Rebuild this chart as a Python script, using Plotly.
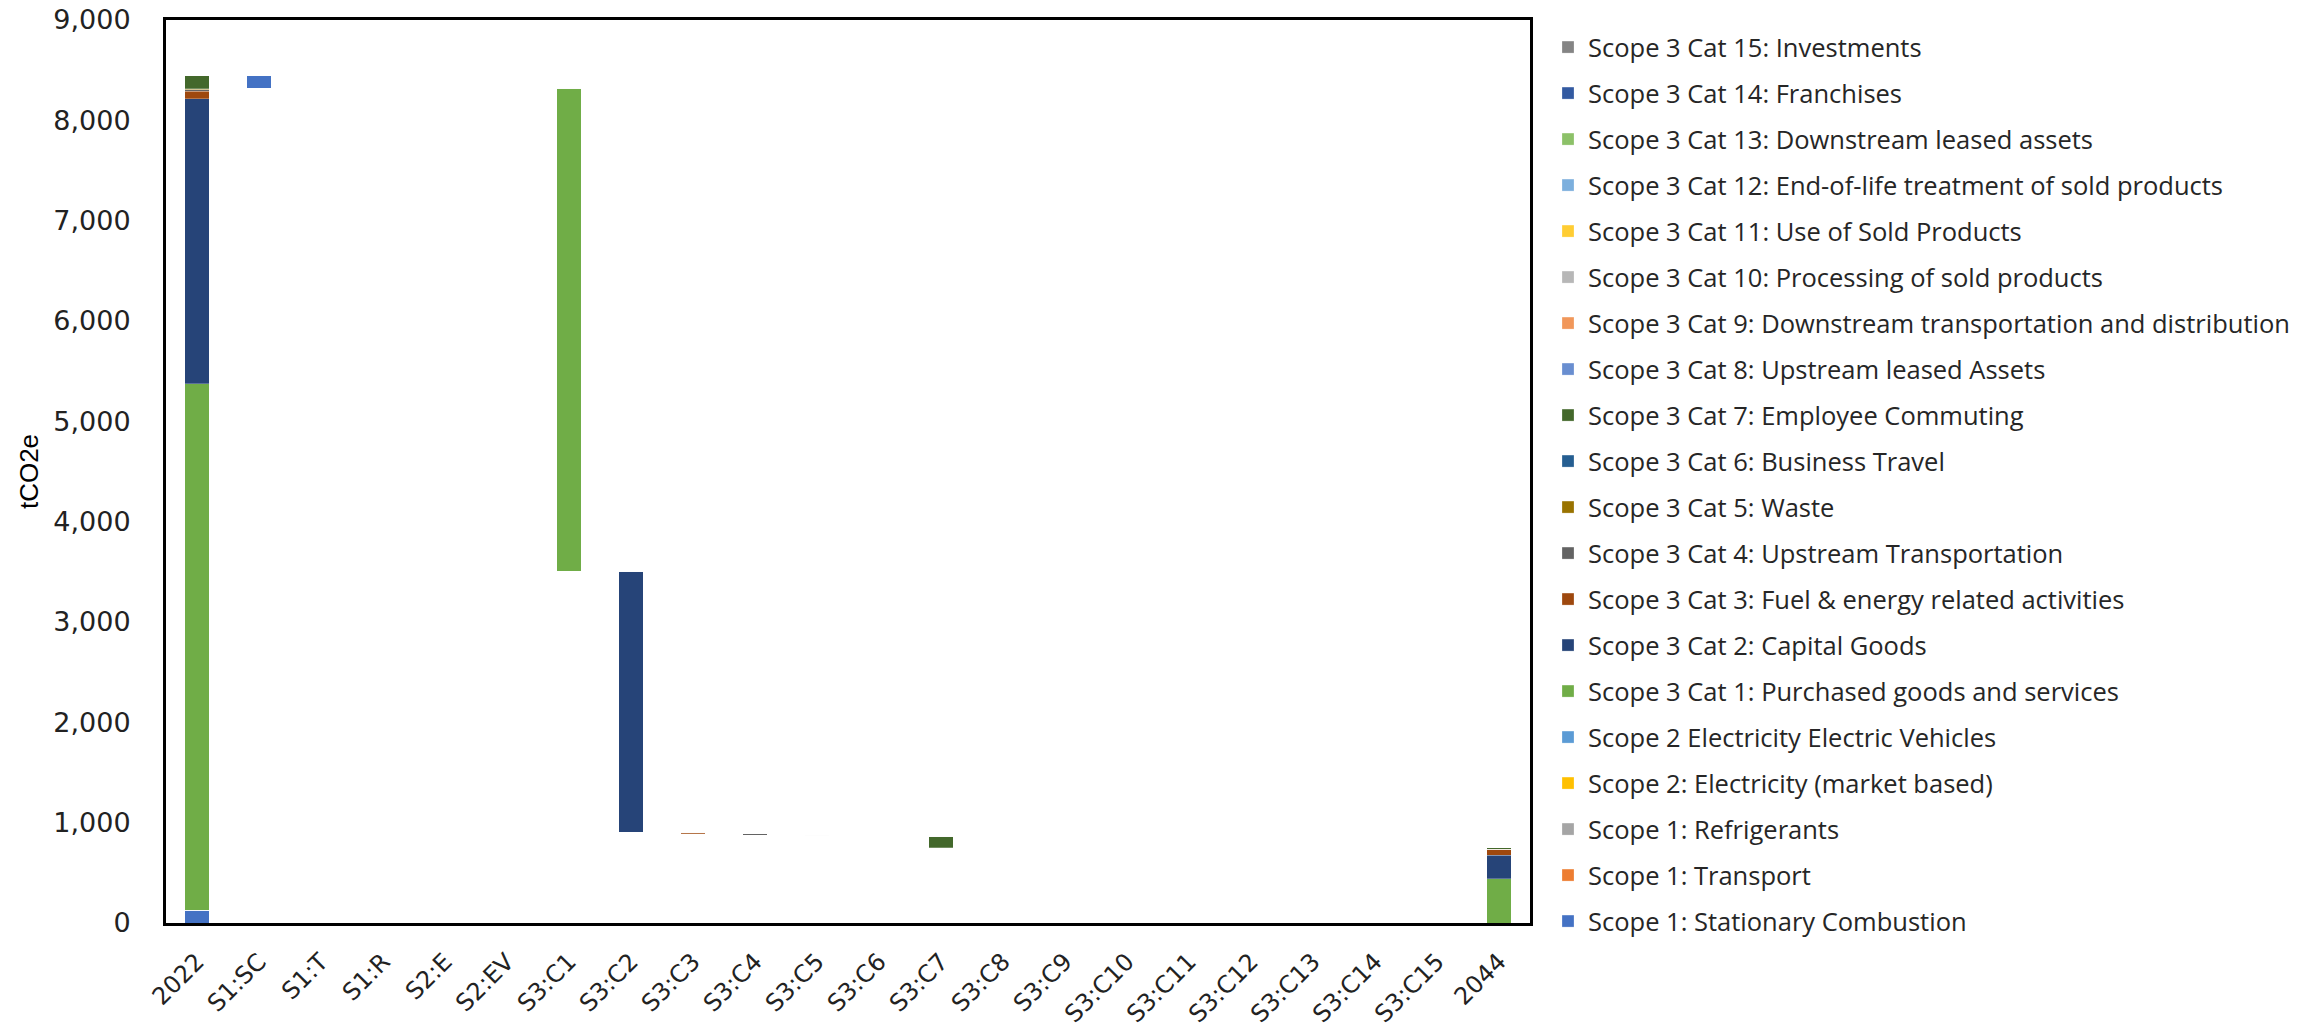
import plotly.graph_objects as go

categories = ["2022", "S1:SC", "S1:T", "S1:R", "S2:E", "S2:EV",
              "S3:C1", "S3:C2", "S3:C3", "S3:C4", "S3:C5", "S3:C6", "S3:C7",
              "S3:C8", "S3:C9", "S3:C10", "S3:C11", "S3:C12", "S3:C13",
              "S3:C14", "S3:C15", "2044"]

series_names = [
    "Scope 1: Stationary Combustion",
    "Scope 1: Transport",
    "Scope 1: Refrigerants",
    "Scope 2: Electricity (market based)",
    "Scope 2 Electricity Electric Vehicles",
    "Scope 3 Cat 1: Purchased goods and services",
    "Scope 3 Cat 2: Capital Goods",
    "Scope 3 Cat 3: Fuel & energy related activities",
    "Scope 3 Cat 4: Upstream Transportation",
    "Scope 3 Cat 5: Waste",
    "Scope 3 Cat 6: Business Travel",
    "Scope 3 Cat 7: Employee Commuting",
    "Scope 3 Cat 8: Upstream leased Assets",
    "Scope 3 Cat 9: Downstream transportation and distribution",
    "Scope 3 Cat 10: Processing of sold products",
    "Scope 3 Cat 11: Use of Sold Products",
    "Scope 3 Cat 12: End-of-life treatment of sold products",
    "Scope 3 Cat 13: Downstream leased assets",
    "Scope 3 Cat 14: Franchises",
    "Scope 3 Cat 15: Investments",
]

series_colors = [
    "#4472C4", "#ED7D31", "#A5A5A5", "#FFC000", "#5B9BD5",
    "#70AD47", "#264478", "#9E480E", "#636363", "#997300",
    "#255E91", "#43682B", "#698ED0", "#F1975A", "#B7B7B7",
    "#FFCD33", "#7CAFDD", "#8CC168", "#335AA1", "#848484",
]

# Emissions in base year 2022 and target year 2044 (tCO2e)
values_2022 = [125, 0, 0, 0, 0, 5252, 2837, 77, 12, 5, 5, 130,
               0, 0, 0, 0, 0, 0, 0, 0]
values_2044 = [0, 0, 0, 0, 0, 440, 235, 62, 0, 0, 0, 14,
               0, 0, 0, 0, 0, 0, 0, 0]

reductions = [a - b for a, b in zip(values_2022, values_2044)]
total_2022 = sum(values_2022)

# invisible spacer under the floating reduction bars
spacer = [0]
running = total_2022
for r in reductions:
    running -= r
    spacer.append(running)
spacer.append(0)

fig = go.Figure()
fig.add_trace(go.Bar(x=categories, y=spacer,
                     marker=dict(color="rgba(0,0,0,0)", line=dict(width=0)),
                     showlegend=False, hoverinfo="skip", legendgroup="spacer"))

for i, (name, col) in enumerate(zip(series_names, series_colors)):
    y = [0] * len(categories)
    y[0] = values_2022[i]
    y[1 + i] = reductions[i]
    y[-1] = values_2044[i]
    fig.add_trace(go.Bar(
        x=categories, y=y, name=name, legendgroup=name,
        legendrank=1000 - i,
        marker=dict(color=col, line=dict(color="rgba(255,255,255,0.5)", width=0.5)),
    ))

W, H = 2324, 1024
OFF = 8  # page body offset
fig.update_layout(
    template="none",
    width=W, height=H,
    barmode="stack", bargap=0.6,
    plot_bgcolor="white", paper_bgcolor="white",
    margin=dict(l=0, r=0, t=0, b=0),
    font=dict(family="Open Sans, sans-serif", size=24, color="#000000"),
    showlegend=True,
    legend=dict(
        x=(1549 - 9) / W, xanchor="left", y=1 - 16 / H, yanchor="top",
        traceorder="grouped", tracegroupgap=9.85,
        font=dict(family="Open Sans, sans-serif", size=25.5, color="#262626"),
        itemwidth=30, maxheight=1024, bgcolor="rgba(0,0,0,0)",
    ),
    xaxis=dict(
        domain=[(166 - OFF) / W, (1530 - OFF) / W], automargin=False,
        tickangle=-45, showline=True, linecolor="black", linewidth=3,
        mirror=True, showgrid=False, zeroline=False, ticks="",
        tickfont=dict(family="DejaVu Sans, sans-serif", size=24, color="#222222"),
        ticklabelstandoff=12, ticklabeloverflow="allow",
    ),
    yaxis=dict(
        domain=[(H - 923 + OFF) / H, (H - 20 + OFF) / H], automargin=False,
        range=[0, 9000], dtick=1000, tickformat=",",
        showline=True, linecolor="black", linewidth=3, mirror=True,
        showgrid=False, zeroline=False, ticks="",
        tickfont=dict(family="DejaVu Sans, sans-serif", size=27, color="#222222"),
        ticklabelstandoff=27, ticklabeloverflow="allow",
        title=dict(text="tCO2e",
                   font=dict(family="Liberation Sans Narrow, sans-serif", size=26,
                             color="#000000"),
                   standoff=8),
    ),
)

fig.write_html("out.html")
